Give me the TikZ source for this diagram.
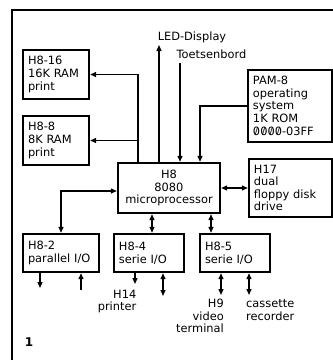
\documentclass[tikz,border=0pt]{standalone}
\usepackage{fontspec}
\usepackage{graphicx}
\setmainfont{DejaVu Sans}
\usetikzlibrary{arrows.meta}
\newcommand\zslash{\ooalign{0\cr\hidewidth\raisebox{0.05ex}{\scalebox{0.85}{/}}\hidewidth\cr}}
\begin{document}
\begin{tikzpicture}[x=1pt,y=-1pt,
  font=\fontsize{11.4}{12.6}\selectfont,
  box/.style={draw, line width=2.4pt, rectangle, inner xsep=5pt, inner ysep=0pt, align=left},
  conn/.style={line width=1.3pt},
  frame/.style={line width=2.2pt},
  lbl/.style={inner sep=0pt},
  >={Triangle[length=6pt,width=5pt]}
]
\useasboundingbox (0,0) rectangle (333,360);
% frame
\coordinate (ftl) at (12,10);
\coordinate (ftr) at (333,10);
\coordinate (fbl) at (12,360);
\draw[frame] (ftr) -- (ftl) -- (fbl);

% boxes
\node[box, minimum width=66pt, minimum height=49pt, text width=56pt] (h816) at (56,74.5) {H8-16\\16K RAM\\print};
\node[box, minimum width=66pt, minimum height=49pt, text width=56pt] (h88) at (56,140.5) {H8-8\\8K RAM\\print};
\node[box, minimum width=84pt, minimum height=72pt, text width=74pt] (pam) at (290,106) {PAM-8\\operating\\system\\1K ROM\\\zslash\zslash\zslash\zslash-03FF};
\node[box, minimum width=102pt, minimum height=50pt, text width=92pt, align=center] (cpu) at (169,188) {H8\\8080\\microprocessor};
\node[box, minimum width=83pt, minimum height=58pt, text width=73pt] (h17) at (290.5,188) {H17\\dual\\floppy disk\\drive};
\node[box, minimum width=76pt, minimum height=38pt, text width=66pt] (h82) at (61,253) {H8-2\\parallel I/O};
\node[box, minimum width=70pt, minimum height=38pt, text width=60pt] (h84) at (149,253) {H8-4\\serie I/O};
\node[box, minimum width=70pt, minimum height=38pt, text width=60pt] (h85) at (235,253) {H8-5\\serie I/O};

% labels
\node[lbl] (ledl) at (192,37) {LED-Display};
\node[lbl] (kbl) at (211.5,54.5) {Toetsenbord};
\node[lbl, anchor=east, align=right] (h14l) at (136.5,301.5) {H14\\printer};
\node[lbl, anchor=east, align=right] (h9l) at (224,316) {H9\\video\\terminal};
\node[lbl, anchor=west, align=left] (casl) at (246,310) {cassette\\recorder};
\node[lbl, font=\fontsize{12}{14}\selectfont\bfseries] (num) at (29,342) {1};

% coordinates
\coordinate (j1) at (138,74);
\coordinate (led) at (159,45);
\coordinate (kb) at (180,63);
\coordinate (j2) at (200,106);
\coordinate (j3) at (61,191);
\coordinate (j4) at (152,200);
\coordinate (j5) at (211,200);
\coordinate (e1) at (40,288);
\coordinate (e2) at (81,290);
\coordinate (e3) at (135,284);
\coordinate (e4) at (163,296);
\coordinate (e5) at (221,295);
\coordinate (e6) at (249,295);

% connectors
\draw[conn,->] (cpu.north -| j1) -- (j1 |- h816.east) -- (h816.east);
\draw[conn,->] (j1 |- h88.east) -- (h88.east);
\draw[conn,->] (cpu.north -| led) -- (led);
\draw[conn,->] (kb) -- (cpu.north -| kb);
\draw[conn,->] (pam.west) -- (pam.west -| j2) -- (cpu.north -| j2);
\draw[conn,<->] (cpu.east) -- (h17.west);
\draw[conn,<->] (h82.north) -- (h82.north |- j3) -- (cpu.west |- j3);
\draw[conn,<->] (cpu.south -| j4) -- (h84.north -| j4);
\draw[conn,<->] (cpu.south -| j5) -- (h85.north -| j5);
\draw[conn,->] (h82.south -| e1) -- (e1);
\draw[conn,->] (e2) -- (h82.south -| e2);
\draw[conn,->] (h84.south -| e3) -- (e3);
\draw[conn,<->] (h84.south -| e4) -- (e4);
\draw[conn,<->] (h85.south -| e5) -- (e5);
\draw[conn,<->] (h85.south -| e6) -- (e6);
\end{tikzpicture}
\end{document}
